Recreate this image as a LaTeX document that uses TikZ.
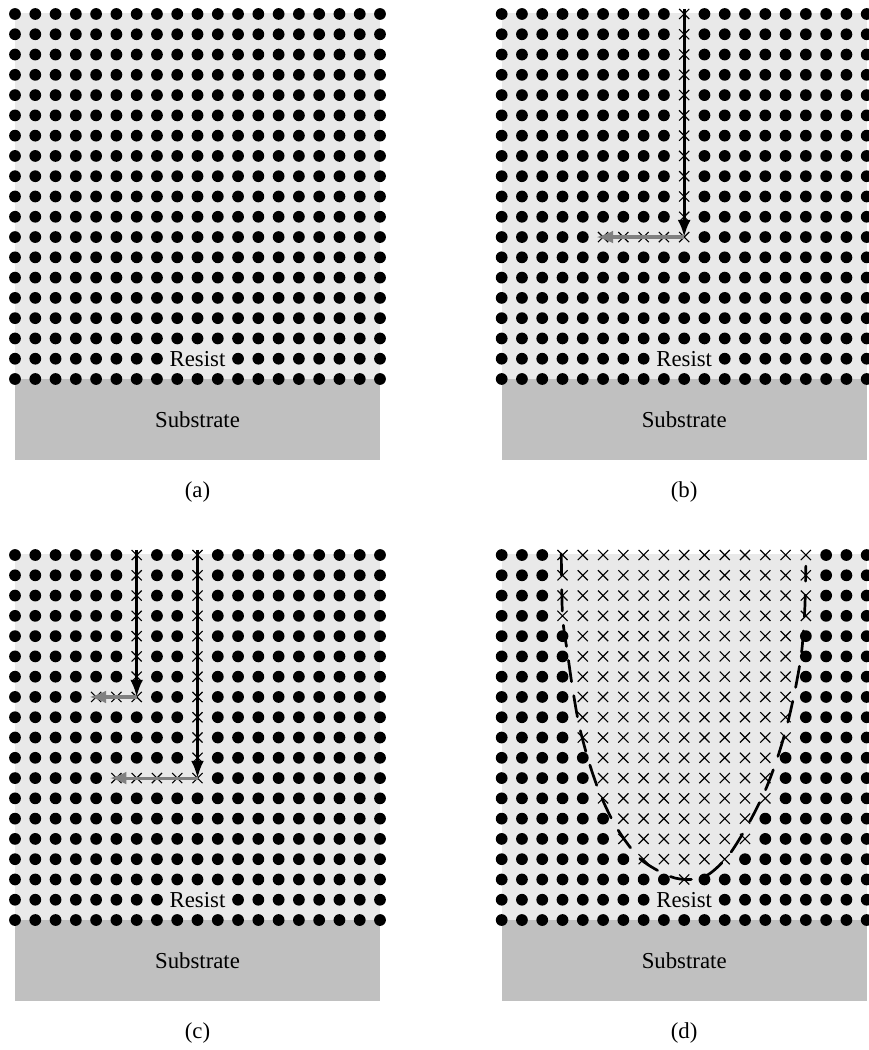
\documentclass[tikz,border=0pt]{standalone}
\usepackage{fontspec}
\setmainfont{Liberation Serif}
\usepackage{xcolor}
\usepackage{tikz}
\usetikzlibrary{arrows.meta}
\definecolor{resistgray}{RGB}{233,233,233}
\definecolor{substrategray}{RGB}{192,192,192}
\definecolor{scatgray}{RGB}{128,128,128}
\tikzset{
  resist/.style={fill=resistgray},
  substrate/.style={fill=substrategray},
  lbl/.style={inner sep=0pt, font=\fontsize{16pt}{19pt}\selectfont},
  xmark/.style={draw=black, line width=0.8pt},
  beam/.style={-{Latex[length=12pt,width=9pt]}, line width=2pt, black},
  scat/.style={-{Latex[length=12pt,width=9pt]}, line width=2.2pt, scatgray},
  bound/.style={line width=1.9pt, dash pattern=on 15pt off 10pt, line cap=round}
}
% lowest and highest exposed column per row in (d)
\newcommand\dlow{{3,3,3,3,4,4,4,4,4,4,5,5,5,6,6,7,9,99,99}}
\newcommand\dhigh{{15,15,15,15,14,14,14,14,14,14,13,13,13,12,12,11,9,-1,-1}}
% one resist panel: #1 shift, #2 name, #3 label, #4 test for an exposed site
\newcommand\resistpanel[4]{%
  \begin{scope}[shift={#1}]
    \fill[resist] (0,0.06) rectangle (18,-18);
    \fill[substrate] (0,-18) rectangle (18,-22);
    \node[lbl] (#2-res) at (9,-17) {Resist};
    \node[lbl] (#2-sub) at (9,-20) {Substrate};
    \node[lbl] (#2-cap) at (9,-23.57) {(#3)};
    \foreach \i in {0,...,18} {
      \foreach \j in {0,...,18} {
        \pgfmathtruncatemacro\isx{#4}
        \pgfmathtruncatemacro\isgap{\j==17 && \i>=8 && \i<=10}
        \ifnum\isgap=0
          \ifnum\isx=1
            \draw[xmark] (\i-0.25,-\j-0.25) -- (\i+0.25,-\j+0.25)
                         (\i-0.25,-\j+0.25) -- (\i+0.25,-\j-0.25);
          \else
            \fill (\i,-\j) circle (0.29);
          \fi
        \fi
      }
    }
  \end{scope}}

\begin{document}
\begin{tikzpicture}[x=0.5cm, y=0.5cm]
  \useasboundingbox (0,0) rectangle (42.85,-51.78);

  % (a) unexposed resist
  \resistpanel{(0.74,-0.69)}{a}{a}{0}

  % (b) one electron
  \resistpanel{(24.74,-0.69)}{b}{b}{(\i==9 && \j<=11) || (\j==11 && \i>=5 && \i<=8)}
  \begin{scope}[shift={(24.74,-0.69)}]
    \coordinate (b-top) at (9,0.25);
    \coordinate (b-turn) at (9,-11);
    \coordinate (b-end) at (4.65,-11);
    \draw[scat] (b-turn) -- (b-end);
    \draw[beam] (b-top) -- (b-turn);
  \end{scope}

  % (c) two electrons
  \resistpanel{(0.74,-27.37)}{c}{c}{(\i==6 && \j<=7) || (\j==7 && \i>=4 && \i<=5) || (\i==9 && \j<=11) || (\j==11 && \i>=5 && \i<=8)}
  \begin{scope}[shift={(0.74,-27.37)}]
    \coordinate (c-top1) at (6,0.25);
    \coordinate (c-turn1) at (6,-7);
    \coordinate (c-end1) at (3.65,-7);
    \coordinate (c-top2) at (9,0.25);
    \coordinate (c-turn2) at (9,-11);
    \coordinate (c-end2) at (4.65,-11);
    \draw[scat] (c-turn1) -- (c-end1);
    \draw[beam] (c-top1) -- (c-turn1);
    \draw[scat] (c-turn2) -- (c-end2);
    \draw[beam] (c-top2) -- (c-turn2);
  \end{scope}

  % (d) exposed volume
  \resistpanel{(24.74,-27.37)}{d}{d}{\i>=\dlow[\j] && \i<=\dhigh[\j]}
  \begin{scope}[shift={(24.74,-27.37)}]
    \draw[bound] plot[smooth] coordinates {(2.94,0.05) (3,-3) (3.24,-4.8)
      (3.5,-6.6) (3.82,-8.4) (4.3,-10.2) (4.9,-11.9) (5.7,-13.5) (6.85,-15)
      (8.3,-15.85) (9.3,-16) (10.2,-15.75) (11.2,-14.8) (12.2,-13.2)
      (13,-11.6) (13.6,-10) (14.1,-8.3) (14.5,-6.5) (14.8,-4.7) (14.95,-2.6)
      (15,-0.55)};
  \end{scope}
\end{tikzpicture}
\end{document}
